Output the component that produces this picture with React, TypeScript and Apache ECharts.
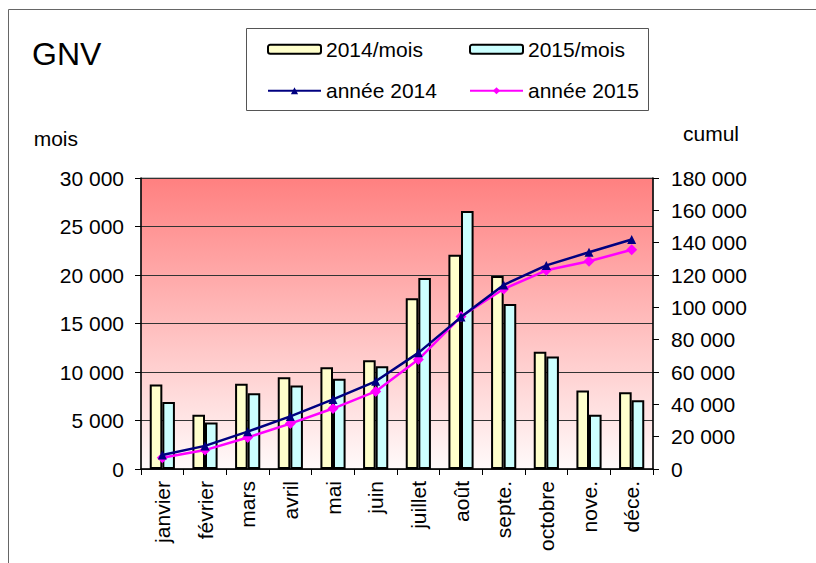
import React, { useEffect, useRef } from "react";
import * as echarts from "echarts";

const months = ["janvier", "février", "mars", "avril", "mai", "juin", "juillet", "août", "septe.", "octobre", "nove.", "déce."];
const monthly2014 = [8700, 5600, 8800, 9450, 10500, 11200, 17600, 22100, 19900, 12100, 8100, 7900];
const monthly2015 = [6900, 4800, 7800, 8600, 9300, 10600, 19700, 26600, 17000, 11600, 5600, 7100];
const cumul2014 = [8700, 14300, 23100, 32550, 43050, 54250, 71850, 93950, 113850, 125950, 134050, 141950];
const cumul2015 = [6900, 11700, 19500, 28100, 37400, 48000, 67700, 94300, 111300, 122900, 128500, 135600];

const fmt = (v: number) => String(v).replace(/\B(?=(\d{3})+(?!\d))/g, " ");
const FONT = "'Liberation Sans', Arial, sans-serif";

export default function App() {
  const ref = useRef<HTMLDivElement>(null);
  useEffect(() => {
    const chart = echarts.init(ref.current!, null, { renderer: "svg" });
    chart.setOption({
      animation: false,
      backgroundColor: "#ffffff",
      title: {
        text: "GNV",
        left: 27,
        top: 33,
        textStyle: { fontFamily: FONT, fontSize: 32, fontWeight: "normal", color: "#000" },
      },
      graphic: [
        {
          type: "rect",
          shape: { x: 8.5, y: 9.5, width: 900, height: 700 },
          style: { fill: "none", stroke: "#666", lineWidth: 1 },
          silent: true,
          z: 100,
        },
        {
          type: "rect",
          shape: { x: 246.5, y: 28.5, width: 402, height: 82 },
          style: { fill: "none", stroke: "#555", lineWidth: 1 },
          silent: true,
          z: 100,
        },
      ],
      legend: {
        left: 247,
        top: 28,
        width: 420,
        padding: [2, 0, 1, 20],
        borderWidth: 0,
        itemWidth: 53,
        itemHeight: 9,
        itemGap: 3,
        data: [
          { name: "2014/mois", textStyle: { width: 140 } },
          { name: "2015/mois", textStyle: { width: 100 } },
          { name: "année 2014", textStyle: { width: 140 } },
          { name: "année 2015", textStyle: { width: 100 } },
        ],
        textStyle: {
          fontFamily: FONT,
          fontSize: 21,
          color: "#000",
          lineHeight: 38.5,
        },
      },
      grid: {
        left: 141,
        right: 163,
        top: 178,
        bottom: 94,
        show: true,
        borderColor: "#808080",
        borderWidth: 1,
        backgroundColor: {
          type: "linear",
          x: 0,
          y: 0,
          x2: 0,
          y2: 1,
          colorStops: [
            { offset: 0, color: "#ff8080" },
            { offset: 1, color: "#fffafa" },
          ],
        },
      },
      xAxis: {
        type: "category",
        data: months,
        axisLine: { lineStyle: { color: "#000", width: 1.5 } },
        axisTick: { show: true, length: 6, lineStyle: { color: "#000" } },
        axisLabel: {
          rotate: 90,
          margin: 12,
          fontFamily: FONT,
          fontSize: 21,
          color: "#000",
          interval: 0,
        },
      },
      yAxis: [
        {
          type: "value",
          min: 0,
          max: 30000,
          interval: 5000,
          name: "mois",
          nameLocation: "end",
          nameGap: 40,
          nameTextStyle: {
            fontFamily: FONT,
            fontSize: 21,
            color: "#000",
            align: "right",
            verticalAlign: "middle",
            padding: [0, 63, 0, 0],
          },
          axisLine: { show: true, lineStyle: { color: "#000", width: 1.5 } },
          axisTick: { show: true, length: 6, lineStyle: { color: "#000" } },
          axisLabel: {
            margin: 17,
            fontFamily: FONT,
            fontSize: 21,
            color: "#000",
            formatter: (v: number) => fmt(v),
          },
          splitLine: { show: true, lineStyle: { color: "#333", width: 1 } },
        },
        {
          type: "value",
          min: 0,
          max: 180000,
          interval: 20000,
          name: "cumul",
          nameLocation: "end",
          nameGap: 45,
          nameTextStyle: {
            fontFamily: FONT,
            fontSize: 21,
            color: "#000",
            align: "left",
            verticalAlign: "middle",
            padding: [0, 0, 0, 30],
          },
          axisLine: { show: true, lineStyle: { color: "#000", width: 1.5 } },
          axisTick: { show: true, length: 6, lineStyle: { color: "#000" } },
          axisLabel: {
            margin: 18,
            fontFamily: FONT,
            fontSize: 21,
            color: "#000",
            formatter: (v: number) => fmt(v),
          },
          splitLine: { show: false },
        },
      ],
      series: [
        {
          name: "2014/mois",
          type: "bar",
          data: monthly2014,
          barGap: "0%",
          barCategoryGap: "41%",
          itemStyle: { color: "#ffffcc", borderColor: "#000", borderWidth: 2 },
        },
        {
          name: "2015/mois",
          type: "bar",
          data: monthly2015,
          barGap: "0%",
          barCategoryGap: "41%",
          itemStyle: { color: "#ccffff", borderColor: "#000", borderWidth: 2 },
        },
        {
          name: "année 2014",
          type: "line",
          yAxisIndex: 1,
          data: cumul2014,
          symbol: "triangle",
          symbolSize: 9,
          lineStyle: { color: "#000080", width: 2.5 },
          itemStyle: { color: "#000080" },
          z: 5,
        },
        {
          name: "année 2015",
          type: "line",
          yAxisIndex: 1,
          data: cumul2015,
          symbol: "diamond",
          symbolSize: 11,
          lineStyle: { color: "#ff00ff", width: 2.5 },
          itemStyle: { color: "#ff00ff" },
          z: 4,
        },
      ],
    });
    return () => chart.dispose();
  }, []);
  return <div ref={ref} style={{ position: "fixed", left: 0, top: 0, width: 816, height: 563 }} />;
}
